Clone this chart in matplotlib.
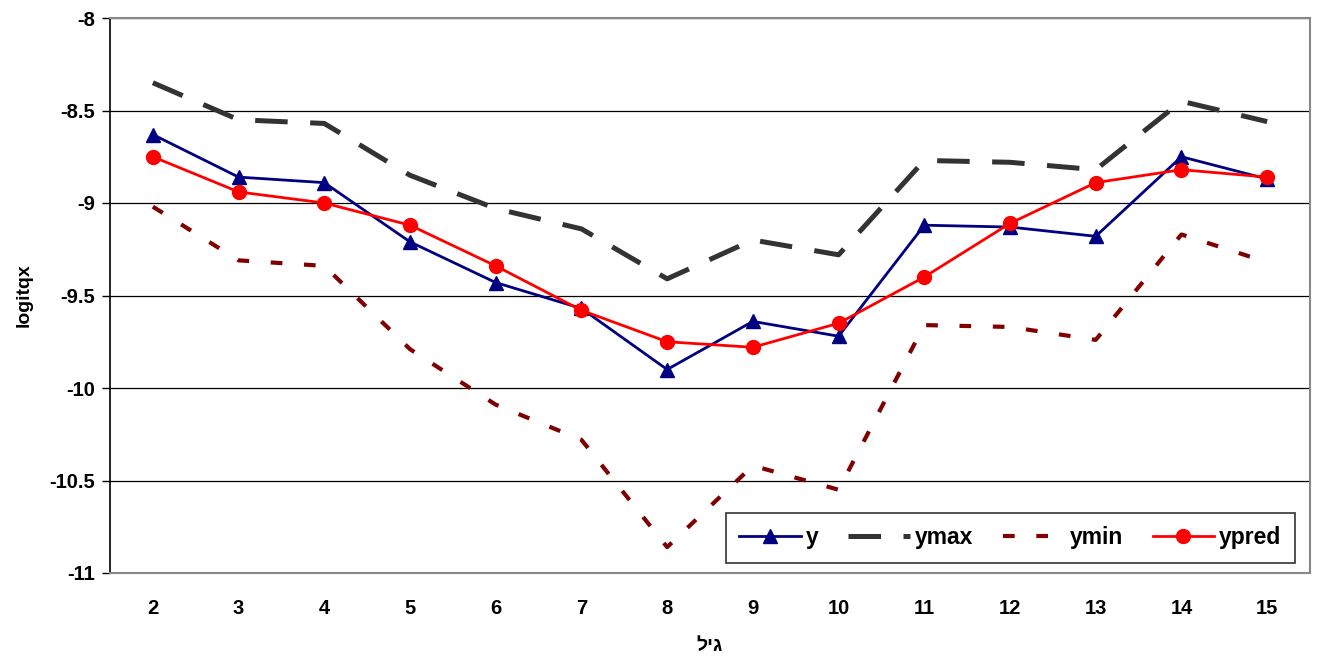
import matplotlib
matplotlib.use("Agg")
import matplotlib.pyplot as plt

plt.rcParams['font.family'] = ['Liberation Sans', 'DejaVu Sans']

ages = [2, 3, 4, 5, 6, 7, 8, 9, 10, 11, 12, 13, 14, 15]
y = [-8.63, -8.86, -8.89, -9.21, -9.43, -9.57, -9.90, -9.64, -9.72, -9.12, -9.13, -9.18, -8.75, -8.87]
ymax = [-8.35, -8.55, -8.57, -8.85, -9.03, -9.14, -9.41, -9.20, -9.28, -8.77, -8.78, -8.82, -8.45, -8.56]
ymin = [-9.02, -9.31, -9.34, -9.79, -10.09, -10.28, -10.86, -10.42, -10.55, -9.66, -9.67, -9.74, -9.17, -9.32]
ypred = [-8.75, -8.94, -9.00, -9.12, -9.34, -9.58, -9.75, -9.78, -9.65, -9.40, -9.11, -8.89, -8.82, -8.86]
yticks = [-8, -8.5, -9, -9.5, -10, -10.5, -11]
xlabel = "גיל"
ylabel = "logitqx"

fig = plt.figure(figsize=(13.18, 6.57), dpi=100)
W, H = 1318, 657
ax = fig.add_axes([110 / W, 1 - 573 / H, 1200 / W, 555 / H])

xs = list(range(len(ages)))
ax.plot(xs, y, color='#000080', lw=2.0, marker='^', ms=10, label='y', zorder=4)
ax.plot(xs, ymax, color='#333333', lw=3.6, dashes=(6.5, 4.5), label='ymax', zorder=3)
ax.plot(xs, ymin, color='#800000', lw=3.0, dashes=(2.8, 5.2), label='ymin', zorder=3)
ax.plot(xs, ypred, color='#FF0000', lw=2.0, marker='o', ms=10, label='ypred', zorder=5)

ax.set_xlim(-0.5, len(ages) - 0.5)
ax.set_ylim(-11, -8)
ax.set_xticks(xs)
ax.set_xticklabels([str(a) for a in ages], fontsize=14.5, fontweight='bold')
ax.set_yticks(yticks)
ax.set_yticklabels([str(t) for t in yticks], fontsize=14.5, fontweight='bold')
ax.tick_params(axis='x', length=0, pad=19)
ax.tick_params(axis='y', length=6, width=1, direction='out', pad=5)

ax.yaxis.grid(True, color='black', lw=0.9)
ax.set_axisbelow(True)
for s in ['top', 'right', 'bottom']:
    ax.spines[s].set_color('#888888')
    ax.spines[s].set_linewidth(1.5)
ax.spines['left'].set_color('black')
ax.spines['left'].set_linewidth(1.2)

ax.set_ylabel(ylabel, fontsize=14, fontweight='bold', labelpad=12)
ax.set_xlabel(xlabel[::-1], fontsize=14, fontweight='bold', labelpad=14)

leg = ax.legend(loc='lower right', ncol=4, bbox_to_anchor=(1185 / 1200, 10 / 555),
                prop={'size': 16.5, 'weight': 'bold'}, frameon=True, fancybox=False,
                edgecolor='black', handlelength=2.7, handletextpad=0.2,
                columnspacing=1.3, borderpad=0.6, borderaxespad=0)
leg.get_frame().set_linewidth(1.2)

fig.savefig('out.png', dpi=100)
